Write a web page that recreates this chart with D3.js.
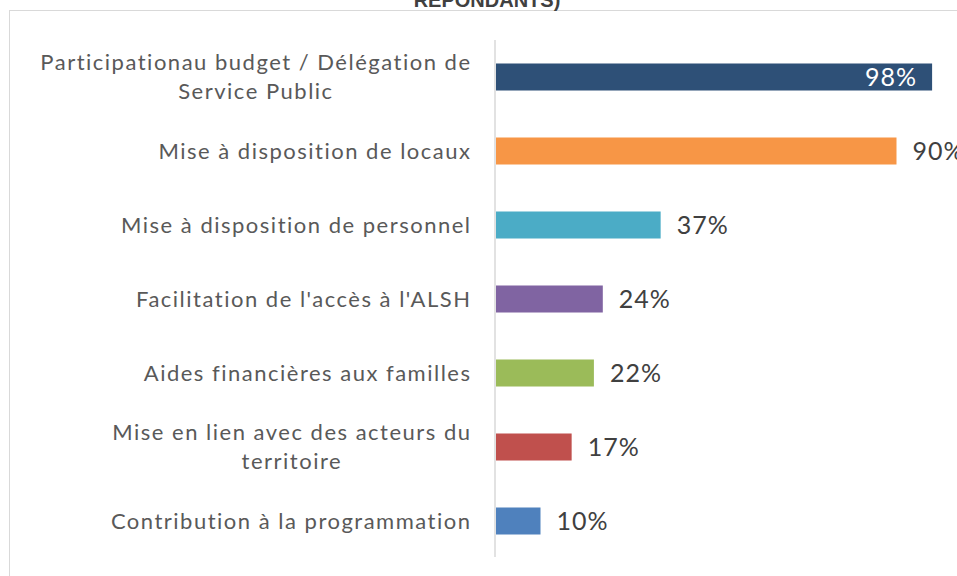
<!DOCTYPE html>
<html>
<head>
<meta charset="utf-8">
<script src="https://cdn.jsdelivr.net/npm/d3@7"></script>
<style>
  body { margin: 0; background: #fff; overflow: hidden; }
  svg { display: block; }
</style>
</head>
<body>
<div class="chart"></div>
<script>
// taille du dessin
var width = 957, height = 576;

// données
var categories = [
  "Participationau budget / Délégation de\nService Public",
  "Mise à disposition de locaux",
  "Mise à disposition de personnel",
  "Facilitation de l'accès à l'ALSH",
  "Aides financières aux familles",
  "Mise en lien avec des acteurs du\nterritoire",
  "Contribution à la programmation"
];
var values = [0.98, 0.90, 0.37, 0.24, 0.22, 0.17, 0.10];
var colors = ["#2E5077", "#F79646", "#4BACC6", "#8064A2", "#9BBB59", "#C0504D", "#4F81BD"];
var titleText = "REPONDANTS)";

var data = categories.map(function (c, i) {
  return {cat: c, value: values[i], color: colors[i]};
});

var svg = d3.select(".chart").append("svg")
  .attr("width", width)
  .attr("height", height);

// cadre du graphique
svg.append("rect")
  .attr("x", 9.5).attr("y", 10.5)
  .attr("width", 1000).attr("height", 600)
  .attr("fill", "none")
  .attr("stroke", "#d9d9d9")
  .attr("stroke-width", 1);

// titre (coupé en haut)
svg.append("text")
  .attr("x", 487).attr("y", 7)
  .attr("text-anchor", "middle")
  .style("font-family", "'Liberation Sans Narrow', 'Liberation Sans', Arial, sans-serif")
  .style("font-weight", "bold")
  .style("font-size", "20px")
  .style("fill", "#404040")
  .text(titleText);

var x = d3.scaleLinear().domain([0, 1]).range([496, 941]);
var y = d3.scaleBand()
  .domain(categories)
  .range([40, 558])
  .paddingInner(0.635)
  .paddingOuter(0.3175);

// axe vertical
svg.append("line")
  .attr("x1", 495).attr("x2", 495)
  .attr("y1", 40).attr("y2", 557)
  .attr("stroke", "#d9d9d9")
  .attr("stroke-width", 1.5);

var font = "Lato, 'Noto Sans', sans-serif";

svg.append("g").selectAll("rect")
  .data(data)
  .enter().append("rect")
  .attr("x", x(0))
  .attr("y", function (d) { return y(d.cat); })
  .attr("width", function (d) { return x(d.value) - x(0); })
  .attr("height", y.bandwidth())
  .attr("fill", function (d) { return d.color; });

// étiquettes des catégories
var labelRight = 471.5, lineH = 29;
data.forEach(function (d) {
  var lines = d.cat.split("\n");
  var cy = y(d.cat) + y.bandwidth() / 2;
  var g = svg.append("g");
  var texts = lines.map(function (l, j) {
    return g.append("text")
      .attr("y", cy + (j - (lines.length - 1) / 2) * lineH)
      .attr("dy", "0.35em")
      .style("font-family", font)
      .style("font-size", "22px")
      .style("letter-spacing", "1.5px")
      .style("fill", "#595959")
      .text(l);
  });
  var maxW = d3.max(texts, function (t) { return t.node().getComputedTextLength(); });
  texts.forEach(function (t) {
    if (lines.length > 1) {
      t.attr("x", labelRight - maxW / 2).attr("text-anchor", "middle");
    } else {
      t.attr("x", labelRight).attr("text-anchor", "end");
    }
  });
});

// valeurs
var fmt = d3.format(".0%");
svg.append("g").selectAll("text")
  .data(data)
  .enter().append("text")
  .attr("x", function (d) { return d.value > 0.95 ? x(d.value) - 15 : x(d.value) + 16; })
  .attr("y", function (d) { return y(d.cat) + y.bandwidth() / 2; })
  .attr("dy", "0.35em")
  .attr("text-anchor", function (d) { return d.value > 0.95 ? "end" : "start"; })
  .style("font-family", font)
  .style("font-size", "25px")
  .style("letter-spacing", "1px")
  .style("fill", function (d) { return d.value > 0.95 ? "#fff" : "#404040"; })
  .text(function (d) { return fmt(d.value); });
</script>
</body>
</html>
